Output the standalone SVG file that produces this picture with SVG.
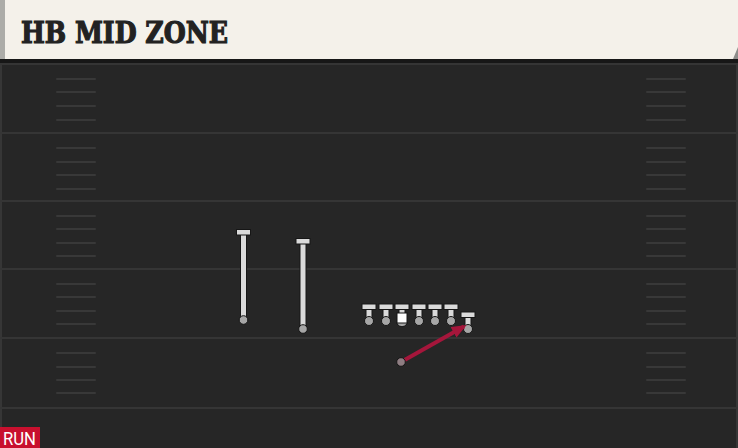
<svg xmlns="http://www.w3.org/2000/svg" width="738" height="448" viewBox="0 0 738 448">
  <defs>
    <style>
      .fl { stroke: #353535; stroke-width: 2; }
      .hash { stroke: #383838; stroke-width: 2; stroke-linecap: round; }
      .stem { stroke: #161616; stroke-width: 7; stroke-linecap: butt; }
      .stemIn { stroke: #dadada; stroke-width: 5; }
      .bar { fill: #dadada; stroke: #161616; stroke-width: 1; }
      .dot { fill: #a6a6a6; stroke: #161616; stroke-width: 1; }
      .title { font-family: "DejaVu Serif", serif; font-weight: bold; font-size: 29px; fill: #222; stroke: #222; stroke-width: 1.2; }
    </style>
    <marker id="ah" markerWidth="15" markerHeight="12" refX="12" refY="6" orient="auto" markerUnits="userSpaceOnUse">
      <path d="M0,0 L15,6 L0,12 Z" fill="#a5163b"/>
    </marker>
    <g id="blk">
      <line x1="0" y1="5" x2="0" y2="15" class="stem"/>
      <line x1="0" y1="5" x2="0" y2="15" class="stemIn"/>
      <rect x="-7" y="0" width="14" height="5.5" class="bar"/>
      <circle cx="0" cy="17" r="4.5" class="dot"/>
    </g>
  </defs>

  <!-- field -->
  <rect x="0" y="0" width="738" height="448" fill="#262626"/>
  <line x1="1" y1="60" x2="1" y2="448" stroke="#363636" stroke-width="2"/>
  <line x1="737" y1="60" x2="737" y2="448" stroke="#363636" stroke-width="2"/>
  <rect x="0" y="58" width="738" height="5" fill="#171717"/>
  <g id="field-lines">
    <line x1="0" y1="64" x2="738" y2="64" class="fl"/>
    <line x1="0" y1="133" x2="738" y2="133" class="fl"/>
    <line x1="0" y1="201" x2="738" y2="201" class="fl"/>
    <line x1="0" y1="269" x2="738" y2="269" class="fl"/>
    <line x1="0" y1="338" x2="738" y2="338" class="fl"/>
    <line x1="0" y1="408" x2="738" y2="408" class="fl"/>
  </g>
  <g id="hashes">
    <path class="hash" d="M57,79H95M57,92H95M57,106H95M57,120H95M57,148H95M57,162H95M57,175H95M57,189H95M57,216H95M57,229H95M57,243H95M57,256H95M57,284H95M57,297H95M57,311H95M57,324H95M57,353H95M57,367H95M57,380H95M57,393H95"/>
    <path class="hash" d="M647,79H685M647,92H685M647,106H685M647,120H685M647,148H685M647,162H685M647,175H685M647,189H685M647,216H685M647,229H685M647,243H685M647,256H685M647,284H685M647,297H685M647,311H685M647,324H685M647,353H685M647,367H685M647,380H685M647,393H685"/>
  </g>

  <!-- header -->
  <g id="header">
    <polygon points="728,59 738,44 738,59" fill="#8d8d8a"/>
    <polygon points="0,0 738,0 738,47 733,59 0,59" fill="#f4f1ea"/>
    <rect x="0" y="0" width="5" height="59" fill="#acaca8"/>
    <text x="21" y="43" class="title" textLength="207" lengthAdjust="spacingAndGlyphs">HB MID ZONE</text>
  </g>

  <!-- receivers -->
  <g id="wr1">
    <line x1="243.5" y1="234" x2="243.5" y2="317" class="stem"/>
    <line x1="243.5" y1="234" x2="243.5" y2="317" class="stemIn"/>
    <rect x="236.5" y="229.5" width="14" height="5.5" class="bar"/>
    <circle cx="243.5" cy="320" r="4.3" class="dot"/>
  </g>
  <g id="wr2">
    <line x1="303" y1="243" x2="303" y2="326" class="stem"/>
    <line x1="303" y1="243" x2="303" y2="326" class="stemIn"/>
    <rect x="296" y="238.5" width="14" height="5.5" class="bar"/>
    <circle cx="303" cy="329" r="4.3" class="dot"/>
  </g>

  <!-- offensive line -->
  <g id="lt"><use href="#blk" x="369" y="304"/></g>
  <g id="lg"><use href="#blk" x="386" y="304"/></g>
  <g id="c">
    <line x1="402" y1="309" x2="402" y2="314" class="stem"/>
    <line x1="402" y1="309" x2="402" y2="314" class="stemIn"/>
    <rect x="395" y="304" width="14" height="5.5" class="bar"/>
    <path d="M397,322 H407 V324 Q402,329.5 397,324 Z" fill="#a6a6a6" stroke="#161616" stroke-width="1"/>
    <rect x="397" y="313" width="10" height="10" fill="#ffffff" stroke="#161616" stroke-width="1"/>
  </g>
  <g id="rg"><use href="#blk" x="419" y="304"/></g>
  <g id="rt"><use href="#blk" x="435" y="304"/></g>
  <g id="te"><use href="#blk" x="451" y="304"/></g>
  <g id="te2"><use href="#blk" x="468" y="312"/></g>

  <!-- connectors -->
  <g id="connectors">
    <line x1="401" y1="362" x2="464" y2="326.5" stroke="#a5163b" stroke-width="4" marker-end="url(#ah)"/>
  </g>

  <g id="hb">
    <circle cx="401" cy="362" r="4.3" fill="#8e7d82" stroke="#161616" stroke-width="1"/>
  </g>

  <!-- badge -->
  <g id="run-badge">
    <rect x="0" y="427" width="40" height="21" fill="#c8102e"/>
    <text x="3" y="445" font-family="Roboto, 'Liberation Sans', sans-serif" font-size="17.5" fill="#ffffff" textLength="33" lengthAdjust="spacingAndGlyphs">RUN</text>
  </g>
</svg>
